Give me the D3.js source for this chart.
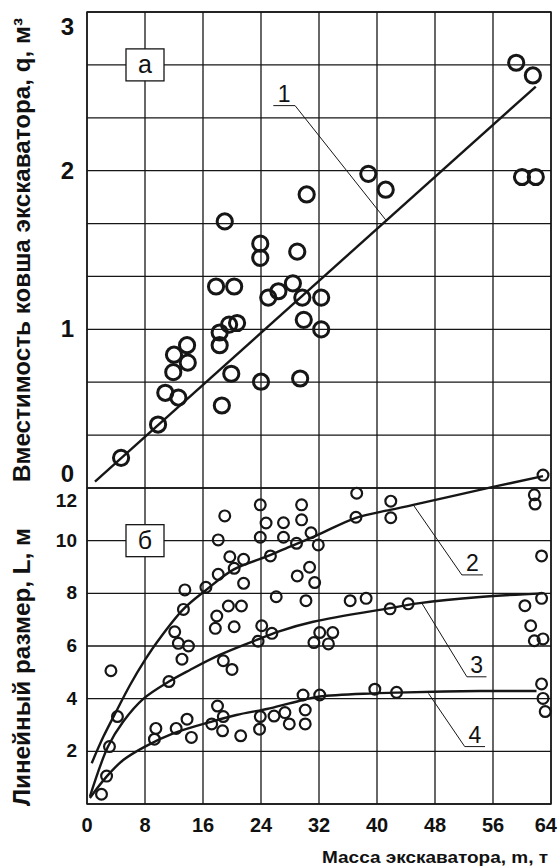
<!DOCTYPE html>
<html>
<head>
<meta charset="utf-8">
<script src="https://cdn.jsdelivr.net/npm/d3@7/dist/d3.min.js"></script>
<style>
body{margin:0;background:#fff;}
svg text{font-family:"Liberation Sans",Arial,sans-serif;fill:#111;}
</style>
</head>
<body>
<svg id="chart" width="559" height="868"></svg>
<script>
//Excavator mass vs bucket volume (a) and linear size (б)

var massTicks = [0,8,16,24,32,40,48,56,64];
var qTicks = [0,1,2,3];
var lTicks = [2,4,6,8,10,12];

//panel а: bucket volume q, m3
var qPoints = [
  [4.7,0.19],[9.8,0.40],[10.8,0.60],[12.6,0.57],[11.9,0.73],[13.9,0.79],[12.0,0.84],
  [13.8,0.90],[18.3,0.90],[18.3,0.98],[19.6,1.03],[20.7,1.04],[18.6,0.52],[19.9,0.72],
  [24.0,0.67],[17.8,1.27],[20.3,1.27],[19.0,1.68],[23.9,1.54],[23.9,1.45],[25.0,1.20],
  [26.4,1.24],[28.4,1.29],[29.0,1.49],[29.7,1.20],[32.3,1.20],[29.9,1.06],[32.3,1.00],
  [29.4,0.69],[30.3,1.85],[38.8,1.98],[41.2,1.88],[59.2,2.68],[61.5,2.60],[60.0,1.96],[61.9,1.96]
];
var line1 = [[1.1,0.04],[61.9,2.53]];

//panel б: linear size L, m
var lPoints = [
  [23.9,11.36],[19.0,10.94],[24.7,10.67],[18.1,10.03],[23.9,10.13],[19.7,9.39],[21.6,9.29],
  [20.3,8.95],[18.1,8.72],[21.6,8.38],[16.4,8.23],[13.5,8.13],[13.3,7.39],[19.5,7.52],
  [21.3,7.52],[17.9,7.14],[17.7,6.67],[20.3,6.73],[24.1,6.77],[12.1,6.54],[12.6,6.10],
  [14.0,6.00],[23.6,6.18],
  [13.1,5.50],[3.3,5.06],[18.8,5.44],[20.0,5.11],[11.3,4.65],[4.2,3.32],[3.1,2.18],
  [2.7,1.06],[2.0,0.37],[9.5,2.87],[9.3,2.46],[12.3,2.87],[13.8,3.22],[14.4,2.53],
  [17.2,3.04],[18.0,3.72],[18.8,3.32],[18.7,2.78],[21.2,2.59],[23.9,3.32],[23.8,2.84],
  [37.2,11.80],[41.9,11.50],[29.6,11.36],[27.1,10.68],[29.6,10.79],[27.1,10.13],[28.9,9.90],
  [30.9,10.30],[31.9,9.84],[37.1,10.89],[41.9,10.87],[25.3,9.42],[30.7,8.99],[29.0,8.66],
  [31.4,8.41],[26.1,7.87],[30.2,7.72],[36.3,7.72],[38.5,7.81],[41.8,7.41],[25.5,6.48],
  [32.1,6.51],[33.9,6.51],[31.3,6.13],[33.3,6.08],
  [44.3,7.60],[60.4,7.53],[62.7,7.81],[61.2,6.77],[61.7,6.20],[62.9,6.27],[62.7,4.56],
  [62.9,4.01],[63.2,3.51],[39.7,4.36],[42.7,4.24],[29.8,4.14],[32.1,4.14],[30.1,3.57],
  [30.1,3.04],[27.3,3.47],[27.9,3.04],[25.8,3.34],
  [62.9,12.49],[61.7,11.74],[61.8,11.39],[62.7,9.42]
];
var curve2 = [[0.65,1.55],[2.25,2.55],[4.1,3.55],[5.9,4.5],[8.0,5.47],[9.8,6.2],[13.3,7.4],
  [16.3,8.1],[20.2,8.9],[24.8,9.4],[27.1,9.67],[31.7,10.2],[37.0,10.86],[41.8,11.17],
  [45.0,11.36],[56.0,12.04],[62.9,12.45]];
var curve3 = [[0.4,0.28],[2.9,2.18],[5.0,3.13],[7.8,4.0],[11.3,4.65],[14.2,5.09],[18.3,5.66],
  [23.4,6.23],[26.4,6.55],[31.2,6.92],[41.8,7.44],[45.9,7.63],[54.2,7.86],[62.9,8.0]];
var curve4 = [[0.4,0.23],[2.7,1.04],[5.0,1.67],[8.0,2.18],[11.9,2.68],[17.2,3.13],[20.6,3.38],
  [25.2,3.63],[29.8,3.95],[32.1,4.08],[39.5,4.2],[42.7,4.23],[54.2,4.29],[62.0,4.29]];

var svg = d3.select("#chart");
var W = 559;
var ink = "#161616";

let x = d3.scaleLinear().domain([0,64]).range([87,551]);
let yq = d3.scaleLinear().domain([0,3]).range([488,12]);
let yl = d3.scaleLinear().domain([0,12]).range([804,488]);

//grid
let grid = svg.append("g").attr("stroke",ink).attr("stroke-width",1.3);
grid.selectAll("line.v").data(massTicks).enter().append("line")
  .attr("x1",d => x(d)).attr("x2",d => x(d))
  .attr("y1",yq(3)).attr("y2",yl(0));
grid.selectAll("line.hq").data(d3.range(0,10)).enter().append("line")
  .attr("x1",x(0)).attr("x2",x(64))
  .attr("y1",d => yq(d/3)).attr("y2",d => yq(d/3));
grid.selectAll("line.hl").data(d3.range(0,13,2)).enter().append("line")
  .attr("x1",x(0)).attr("x2",x(64))
  .attr("y1",d => yl(d)).attr("y2",d => yl(d));
svg.append("rect")
  .attr("x",x(0)).attr("y",yq(3))
  .attr("width",x(64)-x(0)).attr("height",yl(0)-yq(3))
  .attr("fill","none").attr("stroke",ink).attr("stroke-width",1.5);

//fitted lines
let lineQ = d3.line().x(d => x(d[0])).y(d => yq(d[1]));
let lineL = d3.line().curve(d3.curveCatmullRom.alpha(0.5)).x(d => x(d[0])).y(d => yl(d[1]));
svg.append("path").datum(line1).attr("d",lineQ)
  .attr("fill","none").attr("stroke",ink).attr("stroke-width",2.4);
svg.selectAll("path.fit").data([curve2,curve3,curve4]).enter().append("path")
  .attr("d",lineL)
  .attr("fill","none").attr("stroke",ink).attr("stroke-width",2.4);

//callouts
let callouts = [
  {label:"1", y:yq, from:[41.2,1.69], corner:[28.7,2.41], end:[25.7,2.41]},
  {label:"2", y:yl, from:[45.0,11.36], corner:[51.7,8.70], end:[54.6,8.70]},
  {label:"3", y:yl, from:[46.2,7.62], corner:[52.4,4.83], end:[55.1,4.83]},
  {label:"4", y:yl, from:[47.1,4.20], corner:[52.1,2.18], end:[54.9,2.18]}
];
callouts.forEach(function(c){
  let pts = [c.from,c.corner,c.end].map(p => [x(p[0]),c.y(p[1])]);
  svg.append("path").attr("d",d3.line()(pts))
    .attr("fill","none").attr("stroke",ink).attr("stroke-width",1);
  svg.append("text")
    .attr("x",(pts[1][0]+pts[2][0])/2)
    .attr("y",pts[1][1]-4)
    .attr("text-anchor","middle")
    .style("font-size","23px")
    .text(c.label);
});

//points
svg.append("g").selectAll("circle").data(qPoints).enter().append("circle")
  .attr("cx",d => x(d[0])).attr("cy",d => yq(d[1])).attr("r",7.6)
  .attr("fill","none").attr("stroke",ink).attr("stroke-width",3);
svg.append("g").selectAll("circle").data(lPoints).enter().append("circle")
  .attr("cx",d => x(d[0])).attr("cy",d => yl(d[1])).attr("r",5.4)
  .attr("fill","none").attr("stroke",ink).attr("stroke-width",2.2);

//panel tags
[{t:"а",y:yq,v:8/3},{t:"б",y:yl,v:10}].forEach(function(b){
  let cx = x(8), cy = b.y(b.v);
  svg.append("rect").attr("x",cx-19).attr("y",cy-16).attr("width",38).attr("height",32)
    .attr("fill","#fff").attr("stroke",ink).attr("stroke-width",1.3);
  svg.append("text").attr("x",cx).attr("y",cy+8).attr("text-anchor","middle")
    .style("font-size","25px").text(b.t);
});

//tick labels
svg.selectAll("text.tq").data(qTicks).enter().append("text")
  .attr("x",74)
  .attr("y",d => d===3 ? yq(d)+23 : d===0 ? yq(d)-6 : yq(d)+8)
  .attr("text-anchor","end")
  .style("font-size","24px").style("font-weight","bold")
  .text(d => d);
svg.selectAll("text.tl").data(lTicks).enter().append("text")
  .attr("x",77)
  .attr("y",d => d===12 ? yl(d)+19 : yl(d)+6)
  .attr("text-anchor","end")
  .style("font-size","19px").style("font-weight","bold")
  .text(d => d);
svg.selectAll("text.tx").data(massTicks).enter().append("text")
  .attr("x",d => d===64 ? W-2 : x(d))
  .attr("y",832)
  .attr("text-anchor",d => d===64 ? "end" : "middle")
  .style("font-size","20px").style("font-weight","bold")
  .text(d => d);

//axis titles
svg.append("text")
  .attr("transform","translate(30,250) rotate(-90)")
  .attr("text-anchor","middle")
  .attr("textLength",464).attr("lengthAdjust","spacingAndGlyphs")
  .style("font-size","23px").style("font-weight","bold")
  .text("Вместимость ковша экскаватора, q, м³");
svg.append("text")
  .attr("transform","translate(30,667) rotate(-90)")
  .attr("text-anchor","middle")
  .attr("textLength",278).attr("lengthAdjust","spacingAndGlyphs")
  .style("font-size","23px").style("font-weight","bold")
  .text("Линейный размер, L, м");
svg.append("text")
  .attr("x",548).attr("y",863)
  .attr("text-anchor","end")
  .attr("textLength",226).attr("lengthAdjust","spacingAndGlyphs")
  .style("font-size","16px").style("font-weight","bold")
  .text("Масса экскаватора, m, т");
</script>
</body>
</html>
